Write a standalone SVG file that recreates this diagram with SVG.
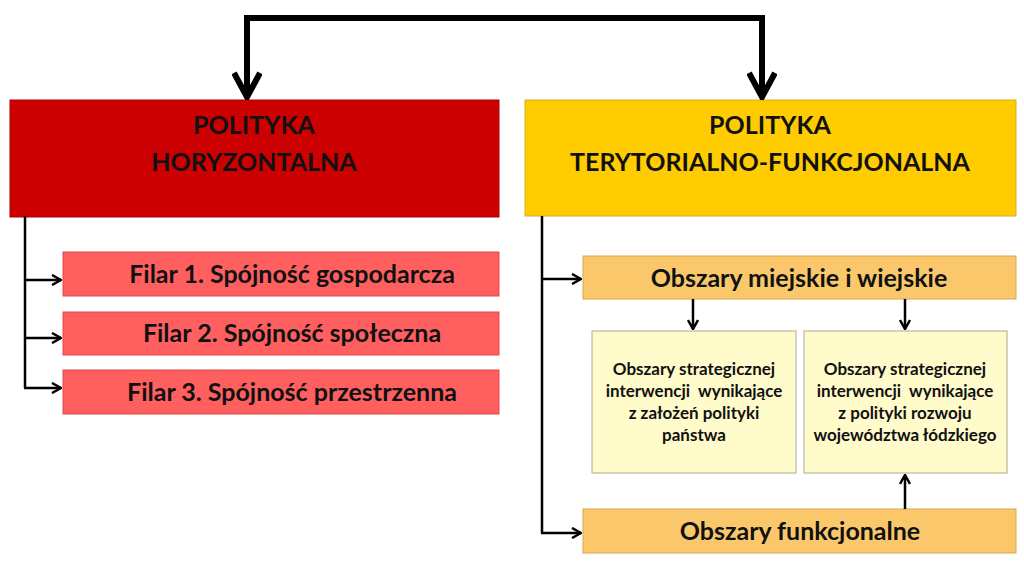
<svg xmlns="http://www.w3.org/2000/svg" width="1024" height="566" viewBox="0 0 1024 566">
<style>
text{font-family:Lato,"Open Sans","Liberation Sans",sans-serif;font-weight:bold;fill:#111;text-anchor:middle}
.big{font-size:25px}
.mid{font-size:25px}
.ob{font-size:25px}
.sm{font-size:17px}
.ln{fill:none;stroke:#000;stroke-width:2.5}
.thk{fill:none;stroke:#000;stroke-width:6;stroke-linejoin:miter}
</style>
<defs>
<marker id="a" viewBox="0 0 12 12" refX="11" refY="6" markerWidth="12" markerHeight="12" markerUnits="userSpaceOnUse" orient="auto">
<path d="M2,1 L11,6 L2,11" fill="none" stroke="#000" stroke-width="2.5"/>
</marker>
<marker id="b" viewBox="0 0 30 30" refX="28" refY="15" markerWidth="30" markerHeight="30" markerUnits="userSpaceOnUse" orient="auto">
<path d="M3,2 L27,15 L3,28" fill="none" stroke="#000" stroke-width="6"/>
</marker>
</defs>
<rect width="1024" height="566" fill="#fff"/>
<g id="n1">
<rect x="10" y="100" width="489" height="117" fill="#CC0000" stroke="#B00000" stroke-width="1"/>
<text class="big" x="254" y="134">POLITYKA</text>
<text class="big" x="254" y="171">HORYZONTALNA</text>
</g>
<g id="n2">
<rect x="525" y="100" width="491" height="116" fill="#FFCC00" stroke="#D9AE20" stroke-width="1"/>
<text class="big" x="770" y="134">POLITYKA</text>
<text class="big" x="770" y="171">TERYTORIALNO-FUNKCJONALNA</text>
</g>
<g id="f1">
<rect x="63" y="252" width="436" height="44" fill="#FF5F5F" stroke="#E04848" stroke-width="1"/>
<text class="mid" x="292" y="283">Filar 1. Spójność gospodarcza</text>
</g>
<g id="f2">
<rect x="63" y="312" width="436" height="43" fill="#FF5F5F" stroke="#E04848" stroke-width="1"/>
<text class="mid" x="292" y="342">Filar 2. Spójność społeczna</text>
</g>
<g id="f3">
<rect x="63" y="370" width="436" height="44" fill="#FF5F5F" stroke="#E04848" stroke-width="1"/>
<text class="mid" x="292" y="401">Filar 3. Spójność przestrzenna</text>
</g>
<g id="o1">
<rect x="583" y="256" width="433" height="43" fill="#FAC86A" stroke="#D8A850" stroke-width="1"/>
<text class="ob" x="799" y="287">Obszary miejskie i wiejskie</text>
</g>
<g id="o2">
<rect x="583" y="509" width="433" height="44" fill="#FAC86A" stroke="#D8A850" stroke-width="1"/>
<text class="ob" x="800" y="540">Obszary funkcjonalne</text>
</g>
<g id="s1">
<rect x="592" y="331" width="204" height="142" fill="#FFFBCB" stroke="#B0AA90" stroke-width="1"/>
<text class="sm" x="694" y="375">Obszary strategicznej</text>
<text class="sm" x="694" y="397">interwencji&#160; wynikające</text>
<text class="sm" x="694" y="419">z założeń polityki</text>
<text class="sm" x="694" y="441">państwa</text>
</g>
<g id="s2">
<rect x="804" y="331" width="203" height="142" fill="#FFFBCB" stroke="#B0AA90" stroke-width="1"/>
<text class="sm" x="905" y="375">Obszary strategicznej</text>
<text class="sm" x="905" y="397">interwencji&#160; wynikające</text>
<text class="sm" x="905" y="419">z polityki rozwoju</text>
<text class="sm" x="905" y="441">województwa łódzkiego</text>
</g>
<g id="connectors">
<path class="thk" d="M762,98 V18 H247 V98" marker-end="url(#b)"/>
<path class="thk" d="M762,30 V98" marker-end="url(#b)"/>
<path class="ln" d="M25,216 V388"/>
<path class="ln" d="M24,280 H61" marker-end="url(#a)"/>
<path class="ln" d="M24,338 H61" marker-end="url(#a)"/>
<path class="ln" d="M24,388 H61" marker-end="url(#a)"/>
<path class="ln" d="M542,216 V533"/>
<path class="ln" d="M541,279 H581" marker-end="url(#a)"/>
<path class="ln" d="M541,533 H581" marker-end="url(#a)"/>
<path class="ln" d="M693,299 V329" marker-end="url(#a)"/>
<path class="ln" d="M905,299 V329" marker-end="url(#a)"/>
<path class="ln" d="M905,509 V475" marker-end="url(#a)"/>
</g>
</svg>
